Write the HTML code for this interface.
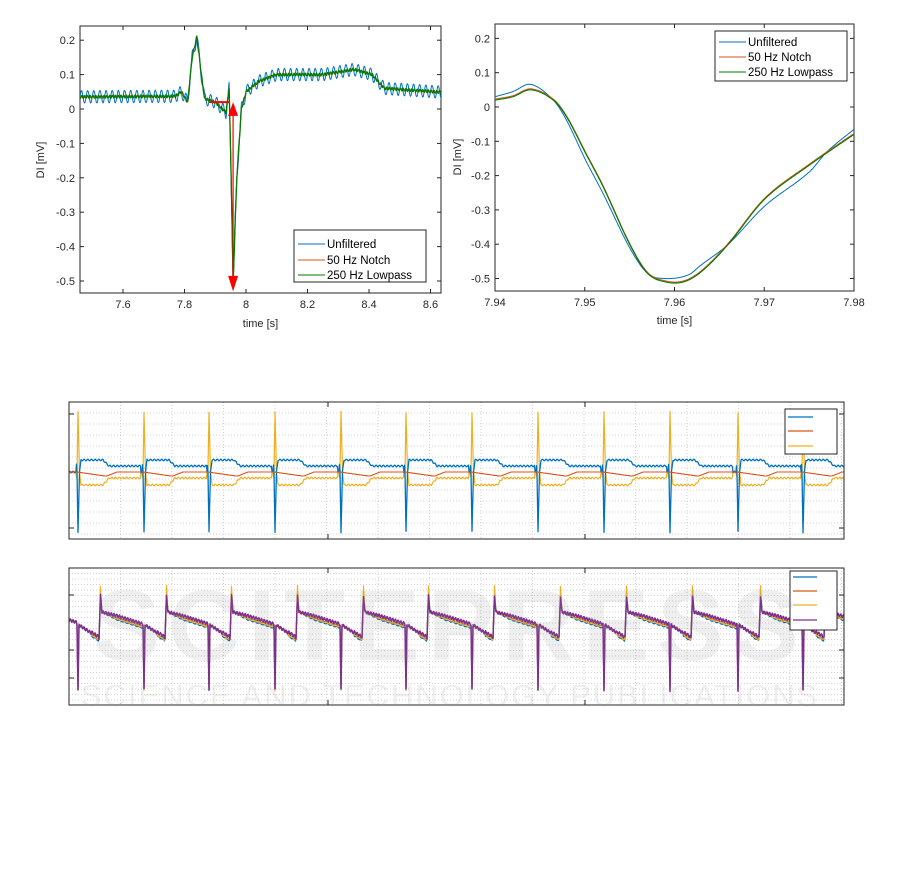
<!DOCTYPE html>
<html><head><meta charset="utf-8"><style>
body{margin:0;background:#fff;width:901px;height:881px;overflow:hidden}
svg{display:block;font-family:"Liberation Sans",sans-serif}
</style></head><body>
<svg id="s" width="901" height="881" xmlns="http://www.w3.org/2000/svg">
</svg>
<script>
const S=document.getElementById('s');let h='';
function P(pts,c,w,extra){return '<polyline fill="none" stroke="'+c+'" stroke-width="'+(w||1)+'" stroke-linejoin="round" points="'+pts.map(p=>p[0].toFixed(1)+','+p[1].toFixed(1)).join(' ')+'" '+(extra||'')+'/>';}
function interp(k,x){for(let i=0;i<k.length-1;i++){if(x<=k[i+1][0]){let t=(x-k[i][0])/(k[i+1][0]-k[i][0]);return k[i][1]+t*(k[i+1][1]-k[i][1]);}}return k[k.length-1][1];}
function cr(k,x){let n=k.length;for(let i=0;i<n-1;i++){if(x<=k[i+1][0]){let p0=k[Math.max(0,i-1)],p1=k[i],p2=k[i+1],p3=k[Math.min(n-1,i+2)];let t=(x-p1[0])/(p2[0]-p1[0]);let m1=(p2[1]-p0[1])/(p2[0]-p0[0])*(p2[0]-p1[0]),m2=(p3[1]-p1[1])/(p3[0]-p1[0])*(p2[0]-p1[0]);let t2=t*t,t3=t2*t;return (2*t3-3*t2+1)*p1[1]+(t3-2*t2+t)*m1+(-2*t3+3*t2)*p2[1]+(t3-t2)*m2;}}return k[n-1][1];}
// ---- top-left
{let X0=80,X1=441,Y0=26,Y1=293;
let xs=v=>123+(v-7.6)/0.2*61.5, ys=v=>109-v*344;
h+='<rect x="'+X0+'" y="'+Y0+'" width="'+(X1-X0)+'" height="'+(Y1-Y0)+'" fill="#fff" stroke="#262626" stroke-width="1"/>';
for(let v=0.2;v>=-0.51;v-=0.1){let y=ys(v);h+='<line x1="'+X0+'" x2="'+(X0+4)+'" y1="'+y+'" y2="'+y+'" stroke="#262626"/><line x1="'+X1+'" x2="'+(X1-4)+'" y1="'+y+'" y2="'+y+'" stroke="#262626"/>';
h+='<text x="'+(X0-5)+'" y="'+(y+4)+'" font-size="11" fill="#262626" text-anchor="end">'+(Math.abs(v)<1e-6?'0':v.toFixed(1))+'</text>';}
for(let v=7.6;v<8.65;v+=0.2){let x=xs(v);h+='<line x1="'+x+'" x2="'+x+'" y1="'+Y1+'" y2="'+(Y1-4)+'" stroke="#262626"/><line x1="'+x+'" x2="'+x+'" y1="'+Y0+'" y2="'+(Y0+4)+'" stroke="#262626"/>';
h+='<text x="'+x+'" y="'+(Y1+15)+'" font-size="11" fill="#262626" text-anchor="middle">'+(Math.abs(v-8)<1e-6?'8':v.toFixed(1))+'</text>';}
h+='<text x="'+((X0+X1)/2)+'" y="327" font-size="11" fill="#262626" text-anchor="middle">time [s]</text>';
h+='<text transform="translate(44,160) rotate(-90)" font-size="11" fill="#262626" text-anchor="middle">DI [mV]</text>';
let k=[[7.4,0.035],[7.77,0.037],[7.79,0.05],[7.81,0.02],[7.825,0.15],[7.84,0.21],[7.855,0.1],[7.865,0.03],[7.9,0.02],[7.935,-0.01],[7.945,0.06],[7.952,-0.2],[7.958,-0.51],[7.97,-0.2],[7.985,0.0],[8.0,0.05],[8.04,0.08],[8.1,0.1],[8.25,0.1],[8.35,0.115],[8.41,0.1],[8.45,0.06],[8.7,0.045]];
let b=[],r=[],g=[];
for(let t=7.46;t<=8.64;t+=0.001){let v=interp(k,t);let rip=0.018*Math.sin(2*Math.PI*50*t);b.push([xs(t),ys(v+rip)]);r.push([xs(t),ys(v+0.002*Math.sin(2*Math.PI*50*t))]);g.push([xs(t),ys(v+0.004*Math.sin(2*Math.PI*110*t))]);}
h+='<clipPath id="c1"><rect x="'+X0+'" y="'+Y0+'" width="'+(X1-X0)+'" height="'+(Y1-Y0)+'"/></clipPath><g clip-path="url(#c1)">'+P(b,'#0072bd',1)+P(r,'#d95319',1)+P(g,'#007a00',1.3)+'</g>';
let ax=xs(7.958);h+='<line x1="'+xs(7.88)+'" x2="'+(ax-4)+'" y1="'+ys(0.02)+'" y2="'+ys(0.02)+'" stroke="#f00" stroke-width="2"/>';
h+='<line x1="'+ax+'" x2="'+ax+'" y1="'+ys(0.0)+'" y2="'+ys(-0.49)+'" stroke="#f00" stroke-width="1.2"/>';
h+='<polygon points="'+ax+','+ys(0.02)+' '+(ax-5)+','+ys(-0.02)+' '+(ax+5)+','+ys(-0.02)+'" fill="#f00"/>';
h+='<polygon points="'+ax+','+ys(-0.53)+' '+(ax-5)+','+ys(-0.485)+' '+(ax+5)+','+ys(-0.485)+'" fill="#f00"/>';
h+='<rect x="294" y="230" width="132" height="52" fill="#fff" stroke="#262626"/>';
[['Unfiltered','#0072bd',248],['50 Hz Notch','#d95319',264],['250 Hz Lowpass','#007a00',279]].forEach(l=>{h+='<line x1="298" x2="325" y1="'+(l[2]-4)+'" y2="'+(l[2]-4)+'" stroke="'+l[1]+'"/><text x="327" y="'+l[2]+'" font-size="11.5" fill="#000">'+l[0]+'</text>';});
}
// ---- top-right
{let X0=495,X1=854,Y0=24,Y1=291;
let xs=v=>495+(v-7.94)/0.01*89.75, ys=v=>107-v*343;
h+='<rect x="'+X0+'" y="'+Y0+'" width="'+(X1-X0)+'" height="'+(Y1-Y0)+'" fill="#fff" stroke="#262626"/>';
for(let i=2;i>=-5;i--){let v=i/10,y=ys(v);h+='<line x1="'+X0+'" x2="'+(X0+4)+'" y1="'+y+'" y2="'+y+'" stroke="#262626"/><line x1="'+X1+'" x2="'+(X1-4)+'" y1="'+y+'" y2="'+y+'" stroke="#262626"/>';
h+='<text x="'+(X0-5)+'" y="'+(y+4)+'" font-size="11" fill="#262626" text-anchor="end">'+(i==0?'0':v.toFixed(1))+'</text>';}
for(let i=0;i<=4;i++){let v=7.94+i*0.01,x=xs(v);h+='<line x1="'+x+'" x2="'+x+'" y1="'+Y1+'" y2="'+(Y1-4)+'" stroke="#262626"/><line x1="'+x+'" x2="'+x+'" y1="'+Y0+'" y2="'+(Y0+4)+'" stroke="#262626"/>';
h+='<text x="'+x+'" y="'+(Y1+15)+'" font-size="11" fill="#262626" text-anchor="middle">'+v.toFixed(2)+'</text>';}
h+='<text x="'+((X0+X1)/2)+'" y="324" font-size="11" fill="#262626" text-anchor="middle">time [s]</text>';
h+='<text transform="translate(461,157) rotate(-90)" font-size="11" fill="#262626" text-anchor="middle">DI [mV]</text>';
let kg=[[7.94,0.02],[7.942,0.03],[7.944,0.05],[7.9465,0.02],[7.948,-0.03],[7.95,-0.13],[7.952,-0.23],[7.955,-0.4],[7.957,-0.485],[7.959,-0.51],[7.961,-0.51],[7.963,-0.48],[7.966,-0.4],[7.97,-0.27],[7.975,-0.17],[7.98,-0.08]];
let kb=[[7.94,0.03],[7.942,0.045],[7.944,0.066],[7.9465,0.02],[7.948,-0.04],[7.95,-0.15],[7.952,-0.25],[7.955,-0.41],[7.957,-0.485],[7.959,-0.5],[7.9615,-0.49],[7.963,-0.46],[7.966,-0.4],[7.97,-0.29],[7.975,-0.19],[7.977,-0.13],[7.98,-0.065]];
let b=[],g=[],r=[];for(let t=7.94;t<=7.98;t+=0.0001){b.push([xs(t),ys(cr(kb,t))]);g.push([xs(t),ys(cr(kg,t))]);r.push([xs(t),ys(cr(kg,t)+0.003)]);}
h+=P(b,'#0072bd',1)+P(r,'#d95319',1)+P(g,'#007a00',1.1);
h+='<rect x="715" y="31" width="132" height="50" fill="#fff" stroke="#262626"/>';
[['Unfiltered','#0072bd',46],['50 Hz Notch','#d95319',61],['250 Hz Lowpass','#007a00',76]].forEach(l=>{h+='<line x1="719" x2="746" y1="'+(l[2]-4)+'" y2="'+(l[2]-4)+'" stroke="'+l[1]+'"/><text x="748" y="'+l[2]+'" font-size="11.5" fill="#000">'+l[0]+'</text>';});
}
const beats=[77,143,208,274,340,405,471,537,603,669,737,802];
function frame(Y0,Y1,minorY,majorY){let X0=69,X1=844;
h+='<rect x="'+X0+'" y="'+Y0+'" width="'+(X1-X0)+'" height="'+(Y1-Y0)+'" fill="#fff"/>';
for(let x=X0+51.5;x<X1;x+=51.5)h+='<line x1="'+x+'" x2="'+x+'" y1="'+Y0+'" y2="'+Y1+'" stroke="#c8c8c8" stroke-dasharray="1,2" stroke-width="0.8"/>';
for(let y=Y0+minorY;y<Y1;y+=minorY)h+='<line x1="'+X0+'" x2="'+X1+'" y1="'+y+'" y2="'+y+'" stroke="#c8c8c8" stroke-dasharray="1,2" stroke-width="0.8"/>';
[328,585].forEach(x=>{h+='<line x1="'+x+'" x2="'+x+'" y1="'+Y0+'" y2="'+(Y0+5)+'" stroke="#262626"/><line x1="'+x+'" x2="'+x+'" y1="'+Y1+'" y2="'+(Y1-5)+'" stroke="#262626"/>';});
majorY.forEach(y=>{h+='<line x1="'+X0+'" x2="'+(X0+5)+'" y1="'+y+'" y2="'+y+'" stroke="#262626"/><line x1="'+X1+'" x2="'+(X1-5)+'" y1="'+y+'" y2="'+y+'" stroke="#262626"/>';});
}
function border(Y0,Y1){h+='<rect x="69" y="'+Y0+'" width="775" height="'+(Y1-Y0)+'" fill="none" stroke="#262626"/>';}
frame(402,539,11,[414,528]);
{let b=[],r=[],y=[];
for(let x=69;x<=844;x+=0.5){let vb=472,vr=472,vy=472;
for(const s of beats){let d=x-s;
if(d>-1&&d<0){vb=472-14*(d+1);vy=472+10*(d+1);}
if(d>=0&&d<1){vb=472+60*d;vy=472-60*d;}
if(d>=1&&d<2.5){vb=532-(d-1)/1.5*60;vy=412+(d-1)/1.5*60;}
if(d>=2.5&&d<32){let p=d<4?(d-2.5)/1.5:1;let e=d>26?1-(d-26)/6:1;vb=472-p*(6+6*e);vy=472+p*(6+7*e);}
if(d>=32&&d<64){vb=466;vy=478;}
if(d>=0&&d<30)vr=472+Math.min(d,28)/28*4;else if(d>=30&&d<40)vr=476-(d-30)*0.4;}
let n=Math.sin(x*1.7)*0.8;b.push([x,vb+n]);y.push([x,vy-n]);r.push([x,vr]);}
h+='<clipPath id="c3"><rect x="69" y="402" width="775" height="137"/></clipPath><g clip-path="url(#c3)">'+P(y,'#edb120',1.2)+P(b,'#0072bd',1.3)+P(r,'#d95319',1.1)+'</g>';}
border(402,539);
h+='<rect x="785" y="409" width="52" height="45" fill="#fff" stroke="#262626"/>';
[[417,'#0072bd'],[431,'#d95319'],[446,'#edb120']].forEach(l=>{h+='<line x1="788" x2="813" y1="'+l[0]+'" y2="'+l[0]+'" stroke="'+l[1]+'" stroke-width="1.2"/>';});
frame(568,705,5.5,[595,650,678]);
{let cols=['#0072bd','#d95319','#edb120','#7e2f8e'];let offs=[3,1,2,-1];let L=[[],[],[],[]];
for(let x=69;x<=844;x+=0.5){for(let c=0;c<4;c++){let v=625;
let prev=null;for(const s of beats){if(x>=s)prev=s;}
if(prev===null){v=620+(x-69)*0.3;}else{let d=x-prev;
if(d<1)v=625+d*65;else if(d<2)v=690-(d-1)*65;else if(d<22)v=625+(d-2)/20*13+(d>14?offs[c]:0);else if(d<23.5)v=638-(d-22)/1.5*(c==2?52:42);else if(d<25)v=(c==2?586:596)+(d-23.5)/1.5*(c==2?26:16);else v=612+(d-25)/41*13+offs[c]*Math.min(1,(d-25)/15);}
let n=c==3?Math.sin(x*2.3)*1.5:Math.sin(x*1.3+c)*0.5;L[c].push([x,v+n]);}}
h+='<clipPath id="c4"><rect x="69" y="568" width="775" height="137"/></clipPath><g clip-path="url(#c4)">'+P(L[0],cols[0],1.3)+P(L[1],cols[1],1)+P(L[2],cols[2],1.2)+P(L[3],cols[3],1.5)+'</g>';}
border(568,705);
h+='<rect x="790" y="571" width="47" height="59" fill="#fff" stroke="#262626"/>';
[[577,'#0072bd'],[591,'#d95319'],[605,'#edb120'],[620,'#7e2f8e']].forEach(l=>{h+='<line x1="793" x2="817" y1="'+l[0]+'" y2="'+l[0]+'" stroke="'+l[1]+'" stroke-width="1.2"/>';});
h+='<g opacity="0.13" fill="#888"><text x="450" y="660" font-size="100" text-anchor="middle" font-weight="bold" letter-spacing="8">SCITEPRESS</text><text x="450" y="706" font-size="31" text-anchor="middle" letter-spacing="2">SCIENCE AND TECHNOLOGY PUBLICATIONS</text></g>';
S.insertAdjacentHTML('beforeend',h);
</script>
</body></html>
